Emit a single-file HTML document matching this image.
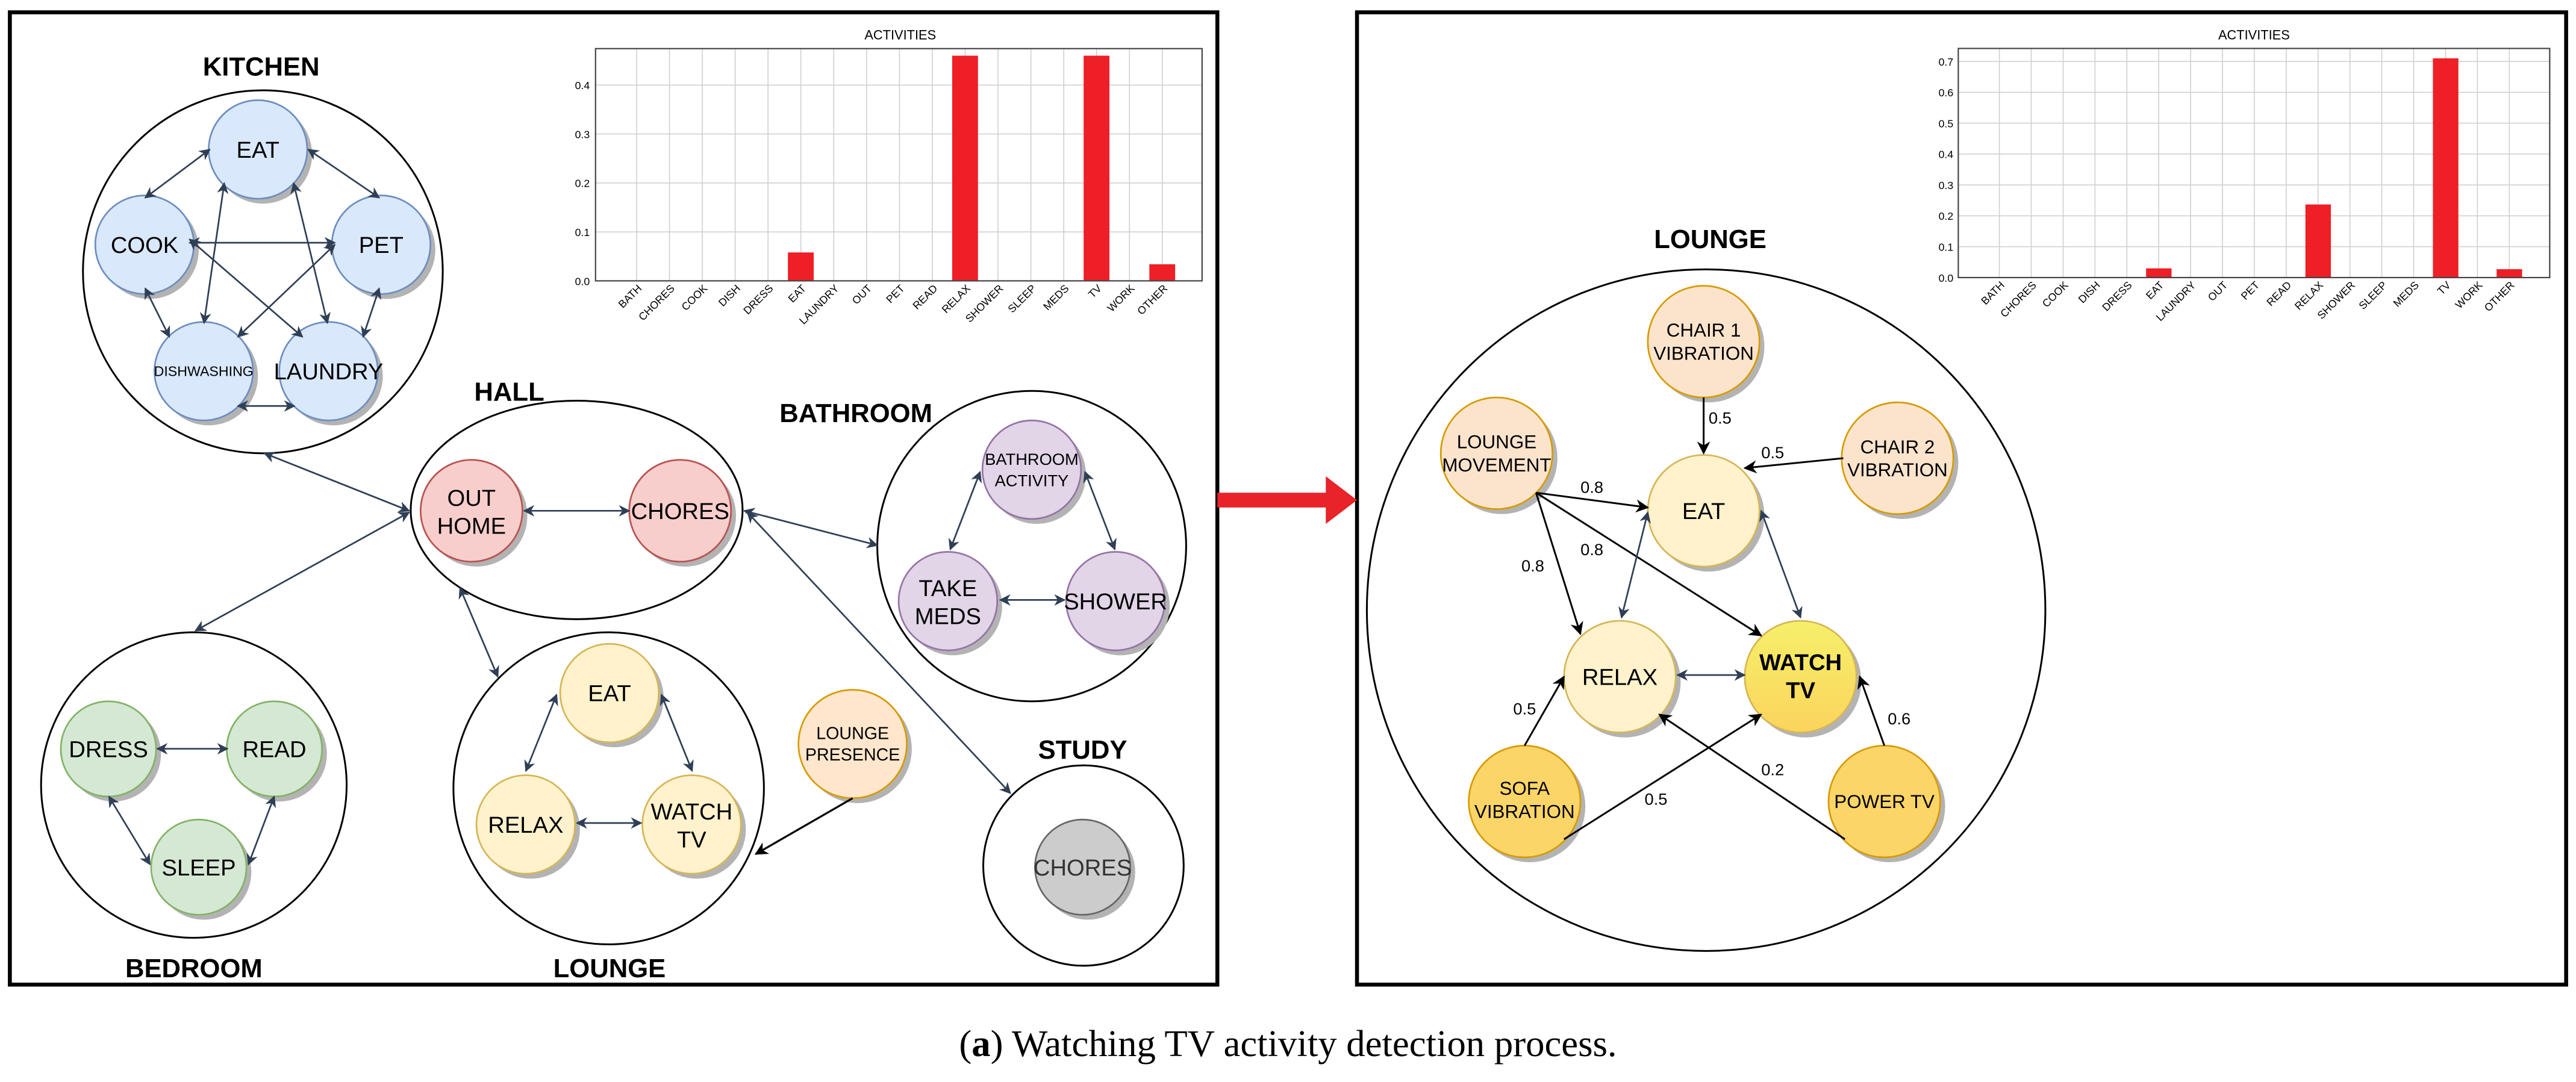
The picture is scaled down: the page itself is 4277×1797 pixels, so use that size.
<!DOCTYPE html>
<html><head><meta charset="utf-8"><style>
html,body{margin:0;padding:0;background:#fff}
svg{display:block}
text{font-family:"Liberation Sans",sans-serif}
</style></head><body>
<svg width="4277" height="1797" viewBox="0 0 1568 658.8" xmlns="http://www.w3.org/2000/svg">
<defs>
<marker id="a" viewBox="0 0 10 10" refX="9" refY="5" markerWidth="7" markerHeight="7" orient="auto-start-reverse" markerUnits="userSpaceOnUse"><path d="M0,0 L10,5 L0,10 L3,5 z" fill="#2f3f55"/></marker>
<marker id="k" viewBox="0 0 10 10" refX="9" refY="5" markerWidth="8" markerHeight="8" orient="auto-start-reverse" markerUnits="userSpaceOnUse"><path d="M0,0 L10,5 L0,10 L3,5 z" fill="#000"/></marker>
<linearGradient id="wt" x1="0" y1="0" x2="0" y2="1"><stop offset="0" stop-color="#f6f06a"/><stop offset="1" stop-color="#fbd45c"/></linearGradient>
</defs>
<rect width="1568" height="659" fill="#fff"/>
<rect x="6" y="7.5" width="735" height="592" fill="none" stroke="#000" stroke-width="2.4"/>
<rect x="826" y="7.5" width="736" height="592" fill="none" stroke="#000" stroke-width="2.4"/>
<rect x="741" y="300" width="68" height="9" fill="#e8232a"/>
<path d="M807,290 L826,304.5 L807,319 z" fill="#e8232a"/>
<text x="784" y="643" text-anchor="middle" font-size="23" style="font-family:'Liberation Serif',serif">(<tspan font-weight="bold">a</tspan>) Watching TV activity detection process.</text>

<!-- LEFT CHART -->
<g font-size="6.5" fill="#000">
<text x="548" y="24" text-anchor="middle" font-size="8">ACTIVITIES</text>
<g stroke="#d0d0d0" stroke-width="0.6">
<line x1="362.5" y1="141.2" x2="731.7" y2="141.2"/><line x1="362.5" y1="111.4" x2="731.7" y2="111.4"/><line x1="362.5" y1="81.6" x2="731.7" y2="81.6"/><line x1="362.5" y1="51.8" x2="731.7" y2="51.8"/>
<line x1="387.5" y1="29.6" x2="387.5" y2="171"/><line x1="407.5" y1="29.6" x2="407.5" y2="171"/><line x1="427.5" y1="29.6" x2="427.5" y2="171"/><line x1="447.5" y1="29.6" x2="447.5" y2="171"/><line x1="467.5" y1="29.6" x2="467.5" y2="171"/><line x1="487.5" y1="29.6" x2="487.5" y2="171"/><line x1="507.5" y1="29.6" x2="507.5" y2="171"/><line x1="527.5" y1="29.6" x2="527.5" y2="171"/><line x1="547.5" y1="29.6" x2="547.5" y2="171"/><line x1="567.5" y1="29.6" x2="567.5" y2="171"/><line x1="587.5" y1="29.6" x2="587.5" y2="171"/><line x1="607.5" y1="29.6" x2="607.5" y2="171"/><line x1="627.5" y1="29.6" x2="627.5" y2="171"/><line x1="647.5" y1="29.6" x2="647.5" y2="171"/><line x1="667.5" y1="29.6" x2="667.5" y2="171"/><line x1="687.5" y1="29.6" x2="687.5" y2="171"/><line x1="707.5" y1="29.6" x2="707.5" y2="171"/>
</g>
<g fill="#ee1f26">
<rect x="479.6" y="153.7" width="15.7" height="17.3"/>
<rect x="579.6" y="33.9" width="15.7" height="137.1"/>
<rect x="659.6" y="33.9" width="15.7" height="137.1"/>
<rect x="699.6" y="160.9" width="15.7" height="10.1"/>
</g>
<rect x="362.5" y="29.6" width="369.2" height="141.4" fill="none" stroke="#444" stroke-width="0.8"/>
<g text-anchor="end">
<text x="359" y="173.5">0.0</text><text x="359" y="143.7">0.1</text><text x="359" y="113.9">0.2</text><text x="359" y="84.1">0.3</text><text x="359" y="54.3">0.4</text>
</g>
<g text-anchor="end">
<g transform="translate(391,176) rotate(-45)"><text>BATH</text></g>
<g transform="translate(411,176) rotate(-45)"><text>CHORES</text></g>
<g transform="translate(431,176) rotate(-45)"><text>COOK</text></g>
<g transform="translate(451,176) rotate(-45)"><text>DISH</text></g>
<g transform="translate(471,176) rotate(-45)"><text>DRESS</text></g>
<g transform="translate(491,176) rotate(-45)"><text>EAT</text></g>
<g transform="translate(511,176) rotate(-45)"><text>LAUNDRY</text></g>
<g transform="translate(531,176) rotate(-45)"><text>OUT</text></g>
<g transform="translate(551,176) rotate(-45)"><text>PET</text></g>
<g transform="translate(571,176) rotate(-45)"><text>READ</text></g>
<g transform="translate(591,176) rotate(-45)"><text>RELAX</text></g>
<g transform="translate(611,176) rotate(-45)"><text>SHOWER</text></g>
<g transform="translate(631,176) rotate(-45)"><text>SLEEP</text></g>
<g transform="translate(651,176) rotate(-45)"><text>MEDS</text></g>
<g transform="translate(671,176) rotate(-45)"><text>TV</text></g>
<g transform="translate(691,176) rotate(-45)"><text>WORK</text></g>
<g transform="translate(711,176) rotate(-45)"><text>OTHER</text></g>
</g>
</g>

<!-- RIGHT CHART -->
<g font-size="6.5" fill="#000">
<text x="1372" y="24" text-anchor="middle" font-size="8">ACTIVITIES</text>
<g stroke="#d0d0d0" stroke-width="0.6">
<line x1="1192" y1="150.2" x2="1552" y2="150.2"/><line x1="1192" y1="131.4" x2="1552" y2="131.4"/><line x1="1192" y1="112.6" x2="1552" y2="112.6"/><line x1="1192" y1="93.8" x2="1552" y2="93.8"/><line x1="1192" y1="75" x2="1552" y2="75"/><line x1="1192" y1="56.2" x2="1552" y2="56.2"/><line x1="1192" y1="37.4" x2="1552" y2="37.4"/>
<line x1="1217" y1="29.5" x2="1217" y2="169"/><line x1="1236.4" y1="29.5" x2="1236.4" y2="169"/><line x1="1255.8" y1="29.5" x2="1255.8" y2="169"/><line x1="1275.2" y1="29.5" x2="1275.2" y2="169"/><line x1="1294.6" y1="29.5" x2="1294.6" y2="169"/><line x1="1314" y1="29.5" x2="1314" y2="169"/><line x1="1333.4" y1="29.5" x2="1333.4" y2="169"/><line x1="1352.8" y1="29.5" x2="1352.8" y2="169"/><line x1="1372.2" y1="29.5" x2="1372.2" y2="169"/><line x1="1391.6" y1="29.5" x2="1391.6" y2="169"/><line x1="1411" y1="29.5" x2="1411" y2="169"/><line x1="1430.4" y1="29.5" x2="1430.4" y2="169"/><line x1="1449.8" y1="29.5" x2="1449.8" y2="169"/><line x1="1469.2" y1="29.5" x2="1469.2" y2="169"/><line x1="1488.6" y1="29.5" x2="1488.6" y2="169"/><line x1="1508" y1="29.5" x2="1508" y2="169"/><line x1="1527.4" y1="29.5" x2="1527.4" y2="169"/>
</g>
<g fill="#ee1f26">
<rect x="1306.3" y="163.4" width="15.5" height="5.6"/>
<rect x="1403.3" y="124.5" width="15.5" height="44.5"/>
<rect x="1480.9" y="35.5" width="15.5" height="133.5"/>
<rect x="1519.7" y="163.9" width="15.5" height="5.1"/>
</g>
<rect x="1192" y="29.5" width="360" height="139.5" fill="none" stroke="#444" stroke-width="0.8"/>
<g text-anchor="end">
<text x="1189" y="171.5">0.0</text><text x="1189" y="152.7">0.1</text><text x="1189" y="133.9">0.2</text><text x="1189" y="115.1">0.3</text><text x="1189" y="96.3">0.4</text><text x="1189" y="77.5">0.5</text><text x="1189" y="58.7">0.6</text><text x="1189" y="39.9">0.7</text>
</g>
<g text-anchor="end">
<g transform="translate(1220.5,174) rotate(-45)"><text>BATH</text></g>
<g transform="translate(1239.9,174) rotate(-45)"><text>CHORES</text></g>
<g transform="translate(1259.3,174) rotate(-45)"><text>COOK</text></g>
<g transform="translate(1278.7,174) rotate(-45)"><text>DISH</text></g>
<g transform="translate(1298.1,174) rotate(-45)"><text>DRESS</text></g>
<g transform="translate(1317.5,174) rotate(-45)"><text>EAT</text></g>
<g transform="translate(1336.9,174) rotate(-45)"><text>LAUNDRY</text></g>
<g transform="translate(1356.3,174) rotate(-45)"><text>OUT</text></g>
<g transform="translate(1375.7,174) rotate(-45)"><text>PET</text></g>
<g transform="translate(1395.1,174) rotate(-45)"><text>READ</text></g>
<g transform="translate(1414.5,174) rotate(-45)"><text>RELAX</text></g>
<g transform="translate(1433.9,174) rotate(-45)"><text>SHOWER</text></g>
<g transform="translate(1453.3,174) rotate(-45)"><text>SLEEP</text></g>
<g transform="translate(1472.7,174) rotate(-45)"><text>MEDS</text></g>
<g transform="translate(1492.1,174) rotate(-45)"><text>TV</text></g>
<g transform="translate(1511.5,174) rotate(-45)"><text>WORK</text></g>
<g transform="translate(1530.9,174) rotate(-45)"><text>OTHER</text></g>
</g>
</g>

<!-- LEFT DIAGRAM -->
<g fill="none" stroke="#000" stroke-width="1.1">
<ellipse cx="160" cy="165.5" rx="109.5" ry="110.5"/>
<ellipse cx="351" cy="310.5" rx="101" ry="66.5"/>
<ellipse cx="628" cy="332.5" rx="94" ry="94.5"/>
<ellipse cx="118" cy="478" rx="93" ry="93"/>
<ellipse cx="370.5" cy="480" rx="94.5" ry="95"/>
<ellipse cx="659.5" cy="527" rx="61" ry="61"/>
</g>
<g font-weight="bold" font-size="16" text-anchor="middle" fill="#000">
<text x="159" y="46">KITCHEN</text>
<text x="310" y="244">HALL</text>
<text x="521" y="257">BATHROOM</text>
<text x="118" y="595">BEDROOM</text>
<text x="371" y="595">LOUNGE</text>
<text x="659" y="462">STUDY</text>
</g>

<g stroke-width="1">
<g fill="#b3b3b3" stroke="none">
<circle cx="160" cy="94" r="30"/><circle cx="91" cy="152" r="30"/><circle cx="235" cy="152" r="30"/><circle cx="127" cy="229" r="30"/><circle cx="203" cy="229" r="30"/>
<circle cx="290" cy="314" r="31"/><circle cx="417" cy="314" r="31"/>
<circle cx="631" cy="289" r="30"/><circle cx="580" cy="369" r="30"/><circle cx="682" cy="369" r="30"/>
<circle cx="69" cy="459" r="29"/><circle cx="170" cy="459" r="29"/><circle cx="124" cy="531" r="29"/>
<circle cx="374" cy="425" r="30"/><circle cx="323" cy="505" r="30"/><circle cx="424" cy="505" r="30"/>
<circle cx="522" cy="456" r="33"/><circle cx="662" cy="531" r="29"/>
</g>
<g fill="#dae8fc" stroke="#6c8ebf">
<circle cx="157" cy="91" r="30"/><circle cx="88" cy="149" r="30"/><circle cx="232" cy="149" r="30"/><circle cx="124" cy="226" r="30"/><circle cx="200" cy="226" r="30"/>
</g>
<g fill="#f8cecc" stroke="#b85450"><circle cx="287" cy="311" r="31"/><circle cx="414" cy="311" r="31"/></g>
<g fill="#e1d5e7" stroke="#9673a6"><circle cx="628" cy="286" r="30"/><circle cx="577" cy="366" r="30"/><circle cx="679" cy="366" r="30"/></g>
<g fill="#d5e8d4" stroke="#82b366"><circle cx="66" cy="456" r="29"/><circle cx="167" cy="456" r="29"/><circle cx="121" cy="528" r="29"/></g>
<g fill="#fff2cc" stroke="#d6b656"><circle cx="371" cy="422" r="30"/><circle cx="320" cy="502" r="30"/><circle cx="421" cy="502" r="30"/></g>
<circle cx="519" cy="453" r="33" fill="#ffe6cc" stroke="#d79b00"/>
<circle cx="659" cy="528" r="29" fill="#cccccc" stroke="#666"/>
</g>
<g font-size="14" text-anchor="middle" fill="#000">
<text x="157" y="96">EAT</text><text x="88" y="154">COOK</text><text x="232" y="154">PET</text>
<text x="124" y="229" font-size="8.5">DISHWASHING</text><text x="200" y="231">LAUNDRY</text>
<text x="287" y="308">OUT</text><text x="287" y="325">HOME</text><text x="414" y="316">CHORES</text>
<text x="628" y="283" font-size="10">BATHROOM</text><text x="628" y="296" font-size="10">ACTIVITY</text>
<text x="577" y="363">TAKE</text><text x="577" y="380">MEDS</text><text x="679" y="371">SHOWER</text>
<text x="66" y="461">DRESS</text><text x="167" y="461">READ</text><text x="121" y="533">SLEEP</text>
<text x="371" y="427">EAT</text><text x="320" y="507">RELAX</text><text x="421" y="499">WATCH</text><text x="421" y="516">TV</text>
<text x="519" y="450" font-size="10.5">LOUNGE</text><text x="519" y="463" font-size="10.5">PRESENCE</text>
<text x="659" y="533" fill="#333">CHORES</text>
</g>
<g stroke="#2f3f55" stroke-width="1" marker-start="url(#a)" marker-end="url(#a)" fill="none">
<line x1="127.7" y1="91" x2="88.4" y2="120.4"/>
<line x1="187.6" y1="91" x2="230.8" y2="120.4"/>
<line x1="115.4" y1="147.8" x2="203.8" y2="147.8"/>
<line x1="115.4" y1="145.7" x2="184.1" y2="205.1"/>
<line x1="203.8" y1="149" x2="144.8" y2="205.1"/>
<line x1="136.5" y1="111.5" x2="124.2" y2="196.7"/>
<line x1="178.7" y1="111.5" x2="199.3" y2="196.7"/>
<line x1="88.4" y1="175.6" x2="103.1" y2="205.1"/>
<line x1="230.8" y1="175.6" x2="221" y2="205.1"/>
<line x1="144.8" y1="247.2" x2="179.2" y2="247.2"/>
<line x1="319" y1="311" x2="383" y2="311"/>
<line x1="596.6" y1="287.3" x2="578.4" y2="334.5"/>
<line x1="660.4" y1="287.3" x2="678.6" y2="334.5"/>
<line x1="608.8" y1="365.3" x2="648" y2="365.3"/>
<line x1="95.7" y1="455.9" x2="138.5" y2="455.9"/>
<line x1="66.3" y1="485" x2="91.3" y2="526.3"/>
<line x1="166.9" y1="485" x2="151.2" y2="526.3"/>
<line x1="338.8" y1="423" x2="320.1" y2="469.4"/>
<line x1="402.6" y1="423" x2="421.3" y2="469.4"/>
<line x1="351.1" y1="501.1" x2="390.3" y2="501.1"/>
<line x1="161" y1="276" x2="249" y2="311"/>
<line x1="249" y1="312" x2="119" y2="384"/>
<line x1="280" y1="358" x2="303" y2="412"/>
<line x1="453" y1="311" x2="534" y2="332"/>
<line x1="455" y1="312" x2="615" y2="483"/>
</g>
<line x1="519" y1="486" x2="460" y2="520" stroke="#000" stroke-width="1.2" marker-end="url(#k)"/>

<!-- RIGHT DIAGRAM -->
<ellipse cx="1038.5" cy="371.5" rx="206.5" ry="207.5" fill="none" stroke="#000" stroke-width="1.1"/>
<text x="1041" y="151" font-weight="bold" font-size="16" text-anchor="middle">LOUNGE</text>
<g stroke="none" fill="#b3b3b3">
<circle cx="1040" cy="211" r="34"/><circle cx="914" cy="279" r="34"/><circle cx="1158" cy="282" r="34"/><circle cx="1040" cy="314" r="34"/>
<circle cx="989" cy="415" r="34"/><circle cx="1099" cy="415" r="34"/><circle cx="931" cy="491" r="34"/><circle cx="1150" cy="491" r="34"/>
</g>
<g stroke-width="1">
<g fill="#fce4cc" stroke="#d79b00"><circle cx="1037" cy="208" r="34"/><circle cx="911" cy="276" r="34"/><circle cx="1155" cy="279" r="34"/></g>
<g fill="#fff2cc" stroke="#d6b656"><circle cx="1037" cy="311" r="34"/><circle cx="986" cy="412" r="34"/></g>
<circle cx="1096" cy="412" r="34" fill="url(#wt)" stroke="#d6b656"/>
<g fill="#fcd568" stroke="#d79b00"><circle cx="928" cy="488" r="34"/><circle cx="1147" cy="488" r="34"/></g>
</g>
<g font-size="11.5" text-anchor="middle" fill="#000">
<text x="1037" y="205">CHAIR 1</text><text x="1037" y="219">VIBRATION</text>
<text x="911" y="273">LOUNGE</text><text x="911" y="287">MOVEMENT</text>
<text x="1155" y="276">CHAIR 2</text><text x="1155" y="290">VIBRATION</text>
<text x="1037" y="316" font-size="14">EAT</text>
<text x="986" y="417" font-size="14">RELAX</text>
<text x="1096" y="408" font-size="14" font-weight="bold">WATCH</text><text x="1096" y="425" font-size="14" font-weight="bold">TV</text>
<text x="928" y="484">SOFA</text><text x="928" y="498">VIBRATION</text>
<text x="1147" y="492">POWER TV</text>
</g>
<g stroke="#000" stroke-width="1.1" marker-end="url(#k)" fill="none">
<line x1="1037" y1="242" x2="1037" y2="276"/>
<line x1="1122" y1="279" x2="1062" y2="285"/>
<line x1="935" y1="300" x2="1003" y2="309"/>
<line x1="935" y1="300" x2="962" y2="386"/>
<line x1="935" y1="300" x2="1072" y2="387"/>
<line x1="928" y1="454" x2="952" y2="412"/>
<line x1="952" y1="511" x2="1072" y2="435"/>
<line x1="1123" y1="511" x2="1010" y2="435"/>
<line x1="1147" y1="454" x2="1132" y2="412"/>
</g>
<g stroke="#2f3f55" stroke-width="1" marker-start="url(#a)" marker-end="url(#a)" fill="none">
<line x1="1003" y1="312" x2="987" y2="376"/>
<line x1="1072" y1="311" x2="1096" y2="376"/>
<line x1="1021" y1="411" x2="1062" y2="411"/>
</g>
<g font-size="10" fill="#000" text-anchor="middle">
<text x="1047" y="258">0.5</text>
<text x="1079" y="279">0.5</text>
<text x="969" y="300">0.8</text>
<text x="933" y="348">0.8</text>
<text x="969" y="338">0.8</text>
<text x="928" y="435">0.5</text>
<text x="1008" y="490">0.5</text>
<text x="1079" y="472">0.2</text>
<text x="1156" y="441">0.6</text>
</g>
</svg>
</body></html>
